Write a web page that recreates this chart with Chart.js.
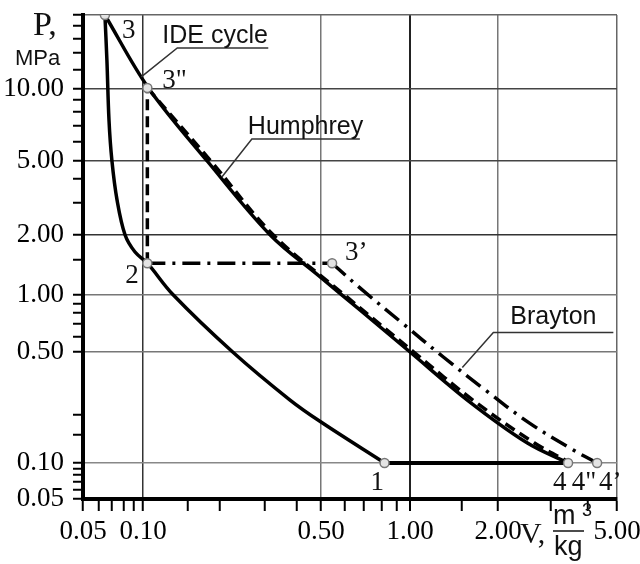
<!DOCTYPE html>
<html>
<head>
<meta charset="utf-8">
<script src="https://cdn.jsdelivr.net/npm/chart.js@4.4.1/dist/chart.umd.min.js"></script>
<style>
  html, body { margin: 0; background: #fff; }
</style>
</head>
<body>
<canvas id="chart" width="640" height="564"></canvas>
<script>
/* ===== P-V diagram: IDE / Humphrey / Brayton ===== */

// IDE cycle: compression 1 -> 2, then steep rise 2 -> 3 (one smooth curve)
const IDE_COMP_V = [0.82, 0.5, 0.378, 0.225, 0.131, 0.104, 0.0912, 0.0813, 0.0741, 0.0698, 0.0675, 0.0659, 0.0644];
const IDE_COMP_P = [0.1, 0.181, 0.249, 0.5, 1.0, 1.44, 1.64, 2.0, 3.08, 5.03, 7.42, 13.1, 20];
// IDE expansion 3 -> 4
const IDE_EXP_V = [0.0644, 0.105, 0.18, 0.316, 0.495, 0.677, 1.0, 1.57, 2.5, 3.43];
const IDE_EXP_P = [20, 10.1, 4.94, 2.0, 1.23, 0.83, 0.5, 0.249, 0.134, 0.1];
// isobaric heat rejection 4 -> 1
const ISOBAR_V = [0.82, 3.43];
const ISOBAR_P = [0.1, 0.1];

// Humphrey: isochoric 2 -> 3", expansion 3" -> 4"
const HUM_ISO_V = [0.104, 0.104];
const HUM_ISO_P = [1.44, 10.1];
const HUM_EXP_V = [0.104, 0.186, 0.325, 0.598, 1.03, 1.64, 2.64, 3.5];
const HUM_EXP_P = [10.1, 4.94, 2.0, 1.0, 0.5, 0.249, 0.134, 0.1];

// Brayton: isobaric 2 -> 3', expansion 3' -> 4'
const BRA_ISO_V = [0.104, 0.545];
const BRA_ISO_P = [1.44, 1.44];
const BRA_EXP_V = [0.545, 0.677, 0.94, 1.3, 1.81, 2.52, 3.56, 4.29];
const BRA_EXP_P = [1.44, 1.08, 0.71, 0.465, 0.288, 0.181, 0.121, 0.1];

// state points
const STATE_NAMES = ["3", "3\"", "2", "3’", "1", "4", "4\"", "4’"];
const STATE_V = [0.0644, 0.104, 0.104, 0.545, 0.82, 3.43, 3.5, 4.29];
const STATE_P = [20, 10.1, 1.44, 1.44, 0.1, 0.1, 0.1, 0.1];

// callout labels, anchored on the curves
const CALLOUT_NAMES = ["IDE cycle", "Humphrey", "Brayton"];
const CALLOUT_V = [0.098, 0.204, 1.51];
const CALLOUT_P = [11.2, 4.1, 0.40];

// axis ticks
const X_MAJOR = [0.05, 0.1, 0.5, 1, 2, 5];
const X_MINOR = [0.06, 0.07, 0.08, 0.09, 0.15, 0.2, 0.3, 0.4, 0.6, 0.7, 0.8, 0.9, 1.5, 3, 4];
const Y_MAJOR = [0.05, 0.1, 0.5, 1, 2, 5, 10];
const Y_MINOR = [0.06, 0.07, 0.08, 0.09, 0.15, 0.2, 0.6, 0.7, 0.8, 0.9, 1.5, 3, 4, 6, 7, 8, 9, 12, 14, 16, 18, 20];

// 원본 도면의 로그 눈금은 고르지 않다: 각 주눈금이 축 길이의 어디에 오는지 (0..1)
const WARP = {
  x: [[0.05, 0], [0.1, 0.1124], [0.5, 0.4457], [1, 0.6124], [2, 0.7772], [5, 1]],
  y: [[0.05, 0], [0.1, 0.0744], [0.5, 0.3037], [1, 0.4225], [2, 0.5455], [5, 0.6983], [10, 0.8471], [20, 1]],
};

function warp(knots, v) {
  const l = Math.log10(v);
  for (let i = 1; i < knots.length; i++) {
    const a = Math.log10(knots[i - 1][0]), b = Math.log10(knots[i][0]);
    if (l <= b || i === knots.length - 1)
      return knots[i - 1][1] + (l - a) / (b - a) * (knots[i][1] - knots[i - 1][1]);
  }
}
function unwarp(knots, t) {
  for (let i = 1; i < knots.length; i++) {
    const a = knots[i - 1][1], b = knots[i][1];
    if (t <= b || i === knots.length - 1) {
      const la = Math.log10(knots[i - 1][0]), lb = Math.log10(knots[i][0]);
      return Math.pow(10, la + (t - a) / (b - a) * (lb - la));
    }
  }
}

class WarpLogScale extends Chart.LogarithmicScale {
  getPixelForValue(value) {
    if (value === undefined || value === 0) value = this.min;
    if (value === null || isNaN(value)) return NaN;
    return this.getPixelForDecimal(warp(WARP[this.id], value));
  }
  getValueForPixel(pixel) {
    return unwarp(WARP[this.id], this.getDecimalForPixel(pixel));
  }
}
WarpLogScale.id = "warplog";
WarpLogScale.defaults = Chart.LogarithmicScale.defaults;
Chart.register(WarpLogScale);

const pts = (vs, ps) => vs.map((v, i) => ({ x: v, y: ps[i] }));

// label offsets (px) from the state point
const LABEL_OFFSET = {
  "3": [17, 23], "3\"": [15, 0], "2": [-22, 20], "3’": [13, -3],
  "1": [-14, 27], "4": [-15, 27], "4\"": [1, 27], "4’": [2, 27],
};
// callout: leader to (dx,dy), underline of len, text at (tx,ty)
const CALLOUT_STYLE = [
  { dx: 36, dy: -29, len: 91, tx: 21, ty: -34 },
  { dx: 30, dy: -38, len: 108, tx: 26, ty: -43 },
  { dx: 31, dy: -35, len: 120, tx: 48, ty: -43 },
];

const X_GRID = { 0.1: "#333", 0.5: "#777", 1: "#222", 2: "#777", 5: "#666" };
const Y_GRID = { 0.1: "#888", 0.5: "#777", 1: "#777", 2: "#333", 5: "#444", 10: "#444", 20: "#666" };

const SERIF = '"Liberation Serif", "Times New Roman", serif';
const SANS = '"Liberation Sans", Arial, sans-serif';

const labelsPlugin = {
  id: "cycleLabels",
  afterDatasetsDraw(chart) {
    const { ctx, scales: { x, y } } = chart;
    ctx.save();
    ctx.fillStyle = "#111";
    ctx.textBaseline = "alphabetic";
    ctx.textAlign = "left";
    ctx.font = "27px " + SERIF;
    STATE_NAMES.forEach((name, i) => {
      const [dx, dy] = LABEL_OFFSET[name];
      ctx.fillText(name, x.getPixelForValue(STATE_V[i]) + dx, y.getPixelForValue(STATE_P[i]) + dy);
    });

    ctx.font = "25px " + SANS;
    ctx.strokeStyle = "#333";
    ctx.lineWidth = 1.5;
    CALLOUT_NAMES.forEach((name, i) => {
      const ax = x.getPixelForValue(CALLOUT_V[i]), ay = y.getPixelForValue(CALLOUT_P[i]);
      const s = CALLOUT_STYLE[i];
      ctx.beginPath();
      ctx.moveTo(ax, ay);
      ctx.lineTo(ax + s.dx, ay + s.dy);
      ctx.lineTo(ax + s.dx + s.len, ay + s.dy);
      ctx.stroke();
      ctx.fillText(name, ax + s.tx, ay + s.ty);
    });
    ctx.restore();
  },
  afterDraw(chart) {
    const { ctx, chartArea: a } = chart;
    ctx.save();
    ctx.fillStyle = "#111";
    ctx.textBaseline = "alphabetic";
    // P, MPa
    ctx.font = "34px " + SERIF;
    ctx.fillText("P,", a.left - 50, a.top + 20);
    ctx.font = "22px " + SANS;
    ctx.fillText("MPa", a.left - 68, a.top + 50);
    // V, m3/kg
    ctx.font = "30px " + SERIF;
    ctx.fillText("V,", a.right - 97, a.bottom + 44);
    ctx.font = "27px " + SANS;
    ctx.fillText("m", a.right - 64, a.bottom + 25);
    ctx.fillText("kg", a.right - 63, a.bottom + 56);
    ctx.font = "18px " + SANS;
    ctx.fillText("3", a.right - 35, a.bottom + 17);
    ctx.strokeStyle = "#111";
    ctx.lineWidth = 1.5;
    ctx.beginPath();
    ctx.moveTo(a.right - 64, a.bottom + 32);
    ctx.lineTo(a.right - 33, a.bottom + 32);
    ctx.stroke();
    ctx.restore();
  },
};

const solid = { borderColor: "#000", borderWidth: 3.5, pointRadius: 0, showLine: true, fill: false, order: 1 };
const dashed = { ...solid, borderWidth: 3.5, borderDash: [11, 6] };
const dashDot = { ...solid, borderWidth: 3.5, borderDash: [18, 7, 3, 7] };

new Chart(document.getElementById("chart"), {
  type: "scatter",
  data: {
    datasets: [
      { label: "states", data: pts(STATE_V, STATE_P), showLine: false, order: 0,
        pointRadius: c => (STATE_NAMES[c.dataIndex] === "4\"" ? 0 : 4.5),
        pointBackgroundColor: "#e4e4e4", pointBorderColor: "#777", pointBorderWidth: 1.5 },
      { ...solid, label: "IDE compression", data: pts(IDE_COMP_V, IDE_COMP_P), tension: 0.35 },
      { ...solid, label: "IDE expansion", data: pts(IDE_EXP_V, IDE_EXP_P), tension: 0.35 },
      { ...solid, label: "4-1", data: pts(ISOBAR_V, ISOBAR_P), borderWidth: 4 },
      { ...dashed, label: "Humphrey 2-3\"", data: pts(HUM_ISO_V, HUM_ISO_P) },
      { ...dashed, label: "Humphrey", data: pts(HUM_EXP_V, HUM_EXP_P), tension: 0.35 },
      { ...dashDot, label: "Brayton 2-3'", data: pts(BRA_ISO_V, BRA_ISO_P) },
      { ...dashDot, label: "Brayton", data: pts(BRA_EXP_V, BRA_EXP_P), tension: 0.35 },
    ],
  },
  options: {
    responsive: false,
    animation: false,
    layout: { padding: { top: 15, right: 23, left: 0, bottom: 0 } },
    plugins: { legend: { display: false }, tooltip: { enabled: false } },
    scales: {
      x: {
        type: "warplog", min: 0.05, max: 5,
        afterBuildTicks: s => { s.ticks = [...X_MAJOR, ...X_MINOR].sort((a, b) => a - b).map(v => ({ value: v })); },
        afterFit: s => { s.height = 65; s.paddingLeft = 0; s.paddingRight = 0; },
        ticks: {
          autoSkip: false, maxRotation: 0, padding: 5, color: "#000",
          font: { family: SERIF, size: 27 },
          callback: v => (X_MAJOR.includes(v) ? v.toFixed(2) : ""),
        },
        grid: {
          color: c => X_GRID[c.tick.value] || "rgba(0,0,0,0)",
          lineWidth: c => (c.tick.value === 1 ? 2 : 1.5),
          tickColor: "#000", tickWidth: 2, tickLength: 12,
        },
        border: { display: true, color: "#000", width: 4 },
      },
      y: {
        type: "warplog", min: 0.05, max: 20,
        afterBuildTicks: s => { s.ticks = [...Y_MAJOR, ...Y_MINOR].sort((a, b) => a - b).map(v => ({ value: v })); },
        afterFit: s => { s.width = 83; s.paddingTop = 0; s.paddingBottom = 0; },
        ticks: {
          autoSkip: false, padding: 9, color: "#000",
          font: { family: SERIF, size: 27 },
          callback: v => (Y_MAJOR.includes(v) ? v.toFixed(2) : ""),
        },
        grid: {
          color: c => Y_GRID[c.tick.value] || "rgba(0,0,0,0)",
          lineWidth: 1.5,
          tickColor: "#000", tickWidth: 2, tickLength: 10,
        },
        border: { display: true, color: "#000", width: 4 },
      },
    },
  },
  plugins: [labelsPlugin],
});
</script>
</body>
</html>
